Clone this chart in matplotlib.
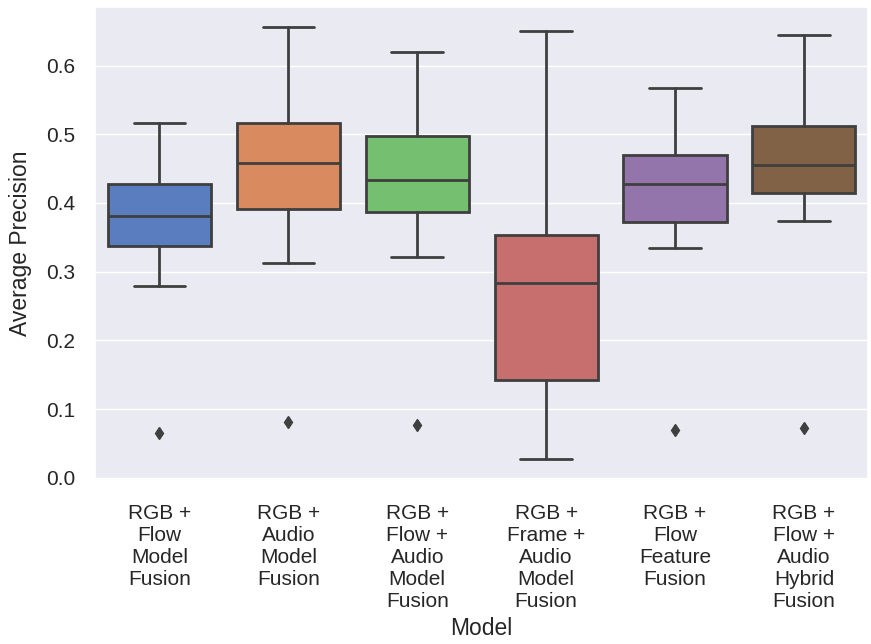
import matplotlib
matplotlib.use("Agg")
import matplotlib.pyplot as plt
import seaborn as sns

# Box statistics
labels = [
    "RGB +\nFlow\nModel\nFusion",
    "RGB +\nAudio\nModel\nFusion",
    "RGB +\nFlow +\nAudio\nModel\nFusion",
    "RGB +\nFrame +\nAudio\nModel\nFusion",
    "RGB +\nFlow\nFeature\nFusion",
    "RGB +\nFlow +\nAudio\nHybrid\nFusion",
]
whis_lo = [0.279, 0.312, 0.322, 0.028, 0.335, 0.374]
q1 = [0.337, 0.391, 0.387, 0.143, 0.372, 0.414]
median = [0.381, 0.458, 0.433, 0.283, 0.428, 0.455]
q3 = [0.428, 0.516, 0.497, 0.353, 0.470, 0.512]
whis_hi = [0.516, 0.656, 0.619, 0.650, 0.568, 0.644]
outliers = [[0.065], [0.081], [0.077], [], [0.070], [0.073]]

sns.set_theme(style="darkgrid")
plt.rcParams['font.family'] = ['Liberation Sans', 'DejaVu Sans']

fig = plt.figure(figsize=(8.71, 6.44), dpi=100)
ax = fig.add_axes([0.109, 0.2547, 0.888, 0.7343])

stats = []
for i in range(len(labels)):
    stats.append({
        "whislo": whis_lo[i], "q1": q1[i], "med": median[i],
        "q3": q3[i], "whishi": whis_hi[i], "fliers": outliers[i],
    })

colors = sns.color_palette("muted", len(labels), desat=0.75)
edge = "#3f3f3f"
bp = ax.bxp(stats, positions=range(len(labels)), widths=0.8,
            patch_artist=True, showfliers=True,
            boxprops=dict(edgecolor=edge, linewidth=2),
            medianprops=dict(color=edge, linewidth=2),
            whiskerprops=dict(color=edge, linewidth=2),
            capprops=dict(color=edge, linewidth=2),
            flierprops=dict(marker="d", markerfacecolor=edge,
                            markeredgecolor=edge, markersize=6))
for patch, c in zip(bp["boxes"], colors):
    patch.set_facecolor(c)

ax.grid(False, axis="x")
ax.set_xlim(-0.5, len(labels) - 0.5)
ax.set_ylim(-0.003, 0.685)
ax.set_yticks([0.0, 0.1, 0.2, 0.3, 0.4, 0.5, 0.6])
ax.set_xticks(range(len(labels)))
ax.set_xticklabels(labels, fontsize=15, multialignment="center")
ax.tick_params(axis="y", labelsize=15, pad=14)
ax.tick_params(axis="x", pad=17.5)
ax.tick_params(length=0, labelcolor="#262626")
ax.set_xlabel("Model", fontsize=16.5, color="#262626")
ax.set_ylabel("Average Precision", fontsize=16.5, color="#262626")
ax.yaxis.set_label_coords(-0.082, 0.5)
ax.xaxis.set_label_coords(0.5, -0.29)

fig.savefig("out.png", dpi=100)
